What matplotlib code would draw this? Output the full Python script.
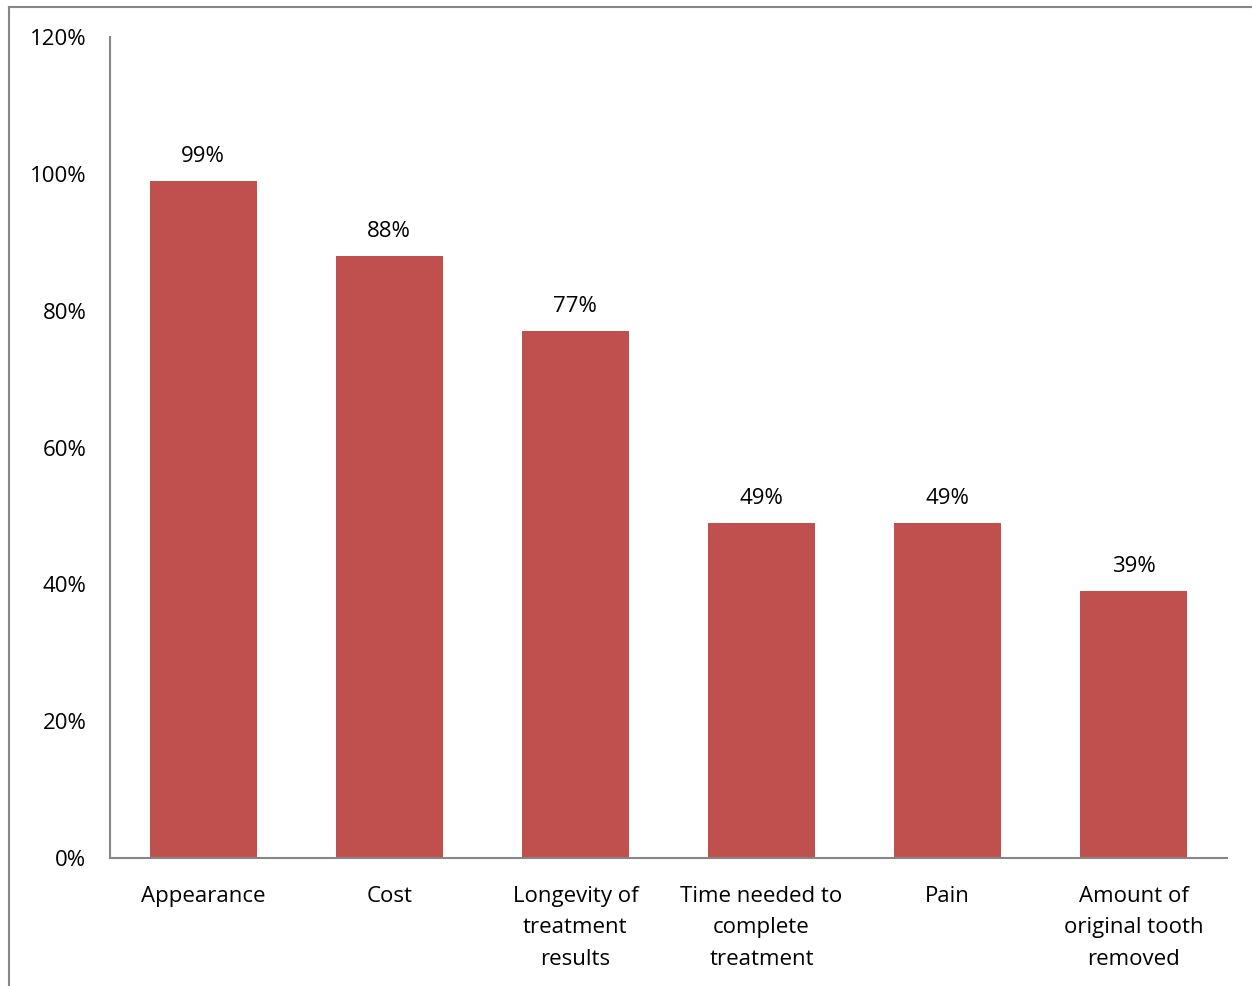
import matplotlib
matplotlib.use("Agg")
import matplotlib.pyplot as plt
from matplotlib.lines import Line2D

categories = ["Appearance", "Cost", "Longevity of\ntreatment\nresults",
              "Time needed to\ncomplete\ntreatment", "Pain",
              "Amount of\noriginal tooth\nremoved"]
values = [99, 88, 77, 49, 49, 39]
yticks = [0, 20, 40, 60, 80, 100, 120]

plt.rcParams['font.family'] = ['Open Sans', 'DejaVu Sans']
FS = 16

W, H = 1252, 986
fig = plt.figure(figsize=(W / 100, H / 100), dpi=100)
ax = fig.add_axes([110 / W, 1 - 858 / H, (1227 - 110) / W, (858 - 37) / H])

x = range(len(categories))
ax.bar(x, values, width=0.575, color="#C0504D", zorder=2)
for xi, v in zip(x, values):
    ax.annotate(f"{v}%", (xi, v), xytext=(0, 10), textcoords="offset points",
                ha="center", va="bottom", fontsize=FS, color="black")

ax.set_xlim(-0.5, len(categories) - 0.5)
ax.set_ylim(0, 120)
ax.set_yticks(yticks)
ax.set_yticklabels([f"{t}%" for t in yticks], fontsize=FS)
ax.set_xticks(list(x))
ax.set_xticklabels(categories, fontsize=FS, linespacing=1.65, va="top")
ax.tick_params(axis="y", length=0, pad=17)
ax.tick_params(axis="x", length=0, pad=20)
for s in ["top", "right"]:
    ax.spines[s].set_visible(False)
for s in ["left", "bottom"]:
    ax.spines[s].set_color("#868686")
    ax.spines[s].set_linewidth(1.5)

# outer chart border (left and top visible)
fig.add_artist(Line2D([9 / W, 9 / W], [0, 1 - 7 / H], transform=fig.transFigure,
                      color="#868686", lw=1.5))
fig.add_artist(Line2D([9 / W, 1], [1 - 7 / H, 1 - 7 / H], transform=fig.transFigure,
                      color="#868686", lw=1.5))

fig.savefig("out.png", dpi=100)
